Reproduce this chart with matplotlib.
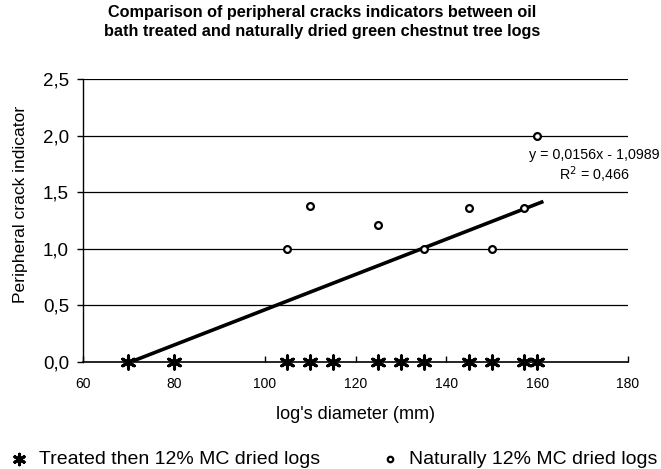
import matplotlib
matplotlib.use('Agg')
import matplotlib.pyplot as plt
from matplotlib.ticker import FuncFormatter
import numpy as np

plt.rcParams['font.family'] = ['Liberation Sans', 'DejaVu Sans']

# treated then dried logs (all indicators 0)
treated_x = [70, 80, 105, 110, 115, 125, 130, 135, 145, 150, 157, 160]
treated_y = [0, 0, 0, 0, 0, 0, 0, 0, 0, 0, 0, 0]

# naturally dried logs
natural_x = [105, 110, 125, 135, 145, 150, 157, 160]
natural_y = [1.0, 1.38, 1.21, 1.0, 1.36, 1.0, 1.36, 2.0]

slope = 0.0156
intercept = -1.0989
trend_range = [70, 161]

fig = plt.figure(figsize=(6.61, 4.69), dpi=100)
ax = fig.add_axes([83 / 661, 1 - 362 / 469, 545 / 661, 283 / 469])

for yv in [0.5, 1.0, 1.5, 2.0, 2.5]:
    ax.axhline(yv, color='black', lw=0.9, zorder=1)

tx = np.array(trend_range)
ax.plot(tx, slope * tx + intercept, color='black', lw=2.6, zorder=2)

ax.scatter(treated_x, treated_y, marker=(6, 2, 0), s=90, color='black',
           linewidths=2.2, zorder=4, label='Treated then 12% MC dried logs', clip_on=False)
ax.scatter(natural_x, natural_y, marker='o', s=24, facecolors='white',
           edgecolors='black', linewidths=1.6, zorder=3, label='Naturally 12% MC dried logs')

ax.set_xlim(60, 180)
ax.set_ylim(0, 2.5)
ax.set_xticks(range(60, 181, 20))
ax.set_yticks([0, 0.5, 1.0, 1.5, 2.0, 2.5])
ax.yaxis.set_major_formatter(FuncFormatter(lambda v, p: f'{v:.1f}'.replace('.', ',')))
ax.tick_params(axis='y', labelsize=13.5, direction='out', length=4, width=1, pad=6)
ax.tick_params(axis='x', labelsize=10, direction='in', length=4, width=1, pad=11)

for s in ['top', 'right']:
    ax.spines[s].set_visible(False)
ax.spines['left'].set_linewidth(1)
ax.spines['bottom'].set_linewidth(1.2)

ax.set_xlabel("log's diameter (mm)", fontsize=13)
ax.xaxis.set_label_coords(0.5, -0.155)
ax.set_ylabel('Peripheral crack indicator', fontsize=12.6)
ax.yaxis.set_label_coords(-0.101, 0.558)

ax.text(172.5, 1.83, 'y = 0,0156x - 1,0989', fontsize=10.3, ha='center', va='center')
ax.text(172.5, 1.655, r'R$^2$ = 0,466', fontsize=10.3, ha='center', va='center')

fig.suptitle('Comparison of peripheral cracks indicators between oil\n'
             'bath treated and naturally dried green chestnut tree logs',
             fontsize=11.7, fontweight='bold', y=0.99, x=0.487, linespacing=1.35)

fig.legend(loc='center', bbox_to_anchor=(0.505, 1 - 459 / 469), ncol=2, frameon=False,
           fontsize=14, handlelength=1, handletextpad=0.5, columnspacing=3.1,
           markerscale=0.8, borderaxespad=0, borderpad=0)

fig.savefig('out.png', dpi=100)
